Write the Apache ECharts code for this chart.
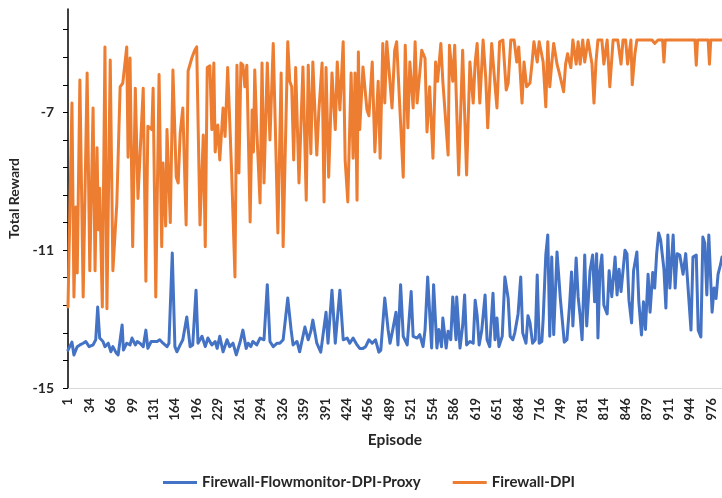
<!DOCTYPE html>
<html>
<head>
<meta charset="utf-8">
<script src="https://cdn.jsdelivr.net/npm/echarts@6/dist/echarts.min.js"></script>
<style>
  html, body { margin: 0; padding: 0; background: #fff; }
  #chart { width: 722px; height: 498px; }
</style>
</head>
<body>
<div id="chart"></div>
<script>
var blueEpisode = [1,7,10,15,19,24,28,33,39,43,46,49,54,57,62,66,69,74,77,83,85,90,95,98,103,106,110,115,119,122,127,130,136,140,145,151,154,159,163,166,171,175,181,186,190,195,198,204,209,213,219,224,227,231,236,242,246,251,256,262,266,271,274,278,281,287,292,298,303,307,312,318,322,327,334,339,342,348,352,360,365,369,372,378,384,392,395,401,406,413,418,424,428,433,439,443,448,452,457,462,467,472,475,481,486,489,493,498,501,505,509,515,521,524,530,534,539,542,546,549,552,555,560,563,567,569,574,577,581,584,589,590,595,599,602,605,610,615,618,621,624,628,633,636,640,645,648,651,654,659,663,668,671,675,678,683,687,690,695,698,701,705,709,712,715,719,721,725,728,731,734,737,742,745,747,750,753,757,761,764,766,771,774,777,780,784,787,792,796,799,802,804,807,810,813,818,821,825,830,833,836,839,845,848,851,855,858,863,866,870,873,876,880,883,887,890,893,896,899,904,907,910,913,918,921,924,928,930,933,937,940,945,948,953,956,960,963,966,969,972,977,980,983,986,990,992];
var blueReward = [-13.9,-13.67,-14.04,-13.8,-13.75,-13.7,-13.65,-13.8,-13.75,-13.6,-12.65,-13.55,-13.65,-13.8,-13.7,-13.95,-13.8,-13.98,-14.04,-13.17,-13.9,-13.7,-13.75,-13.55,-13.75,-13.65,-13.7,-13.8,-13.32,-13.85,-13.65,-13.6,-13.65,-13.6,-13.7,-13.8,-13.7,-11.08,-13.8,-13.95,-13.75,-13.6,-12.94,-13.8,-13.75,-12.16,-13.7,-13.5,-13.8,-13.55,-13.75,-13.65,-13.85,-13.5,-13.95,-13.6,-13.8,-13.7,-14.04,-13.65,-13.32,-13.85,-13.7,-13.8,-13.65,-13.75,-13.55,-13.6,-12.0,-13.65,-13.8,-13.7,-13.7,-13.6,-12.39,-13.3,-13.75,-13.65,-13.95,-13.23,-13.6,-13.35,-13.03,-13.7,-13.96,-12.8,-13.7,-12.16,-13.7,-12.16,-13.6,-13.55,-13.7,-13.55,-13.75,-13.85,-13.85,-13.8,-13.6,-13.7,-13.6,-13.96,-13.9,-12.39,-13.3,-13.7,-13.32,-12.8,-13.75,-12.0,-13.5,-13.75,-12.2,-13.5,-13.55,-13.45,-13.8,-13.32,-11.78,-12.8,-13.84,-12.0,-13.84,-13.3,-13.8,-12.97,-13.84,-13.35,-13.6,-12.36,-13.6,-12.36,-13.84,-13.2,-12.3,-13.75,-13.65,-13.7,-12.45,-12.9,-13.75,-13.32,-12.3,-13.6,-13.8,-12.25,-13.6,-12.97,-13.8,-13.5,-11.78,-12.4,-13.5,-13.6,-13.4,-12.85,-11.78,-13.4,-13.7,-12.9,-13.1,-13.7,-13.6,-11.72,-13.7,-13.65,-13.0,-11.14,-10.56,-13.5,-11.2,-13.45,-11.05,-11.1,-12.4,-12.45,-13.67,-13.6,-12.6,-11.63,-13.2,-11.23,-12.35,-12.9,-13.6,-11.14,-13.2,-11.6,-11.14,-12.5,-11.1,-13.55,-11.6,-11.14,-12.6,-12.85,-11.6,-12.35,-11.2,-12.3,-11.55,-12.2,-11.0,-11.1,-12.45,-13.11,-11.6,-11.05,-12.5,-13.46,-12.5,-13.3,-11.7,-12.8,-11.65,-12.1,-11.1,-10.5,-10.7,-11.55,-12.68,-10.56,-12.1,-10.56,-12.1,-11.1,-11.14,-11.1,-11.7,-11.1,-11.14,-13.32,-11.2,-11.14,-13.32,-13.52,-10.62,-10.8,-12.3,-10.56,-12.8,-12.1,-12.4,-11.7,-11.4,-11.2];

var orangeEpisode = [1,7,10,13,15,19,24,30,34,39,42,45,47,49,53,57,60,65,69,75,80,84,90,92,95,99,103,107,110,115,119,122,128,130,134,139,143,145,149,151,156,160,165,168,171,175,180,183,189,193,196,201,206,209,212,216,219,222,224,228,231,236,239,243,249,254,257,260,263,266,269,272,277,280,282,284,287,292,295,298,303,307,312,315,319,324,327,330,334,337,340,343,346,351,357,362,365,369,372,378,381,386,389,392,396,401,406,409,413,418,421,425,430,433,436,439,441,443,448,454,457,462,466,471,474,478,481,484,492,496,499,504,509,512,516,519,524,527,530,537,542,545,549,554,558,561,566,569,577,579,584,587,590,593,599,602,605,610,615,618,621,625,630,634,637,643,648,651,655,660,665,668,672,677,681,684,689,692,696,701,704,707,712,715,721,725,728,731,734,737,742,746,752,755,758,763,766,771,774,777,781,784,789,795,798,801,804,810,813,818,822,827,834,839,842,846,849,854,856,860,863,886,890,895,902,904,906,951,953,955,971,973,975,992];
var orangeReward = [-12.65,-6.73,-12.36,-9.75,-11.66,-6.06,-12.36,-5.86,-11.6,-6.87,-11.6,-8.03,-10.41,-9.2,-12.65,-5.1,-12.7,-5.48,-11.6,-9.63,-6.26,-6.15,-5.1,-8.3,-5.42,-10.9,-6.3,-9.5,-8.3,-6.3,-11.9,-7.4,-7.5,-6.3,-12.36,-5.9,-10.9,-8.47,-10.3,-7.5,-10.2,-5.77,-8.88,-9.05,-7.6,-6.87,-10.27,-5.8,-5.4,-5.2,-5.1,-10.27,-7.66,-10.9,-5.7,-5.65,-7.5,-5.57,-8.15,-7.37,-8.38,-6.87,-7.7,-5.7,-8.76,-11.78,-5.63,-8.76,-5.57,-5.63,-6.26,-5.63,-10.18,-6.93,-8.15,-5.77,-7.5,-9.63,-5.57,-9.05,-5.57,-7.8,-5.0,-7.3,-10.5,-5.86,-10.9,-8.3,-4.95,-6.1,-6.26,-8.38,-5.7,-9.05,-5.68,-9.55,-5.63,-8.2,-5.54,-8.24,-7.0,-5.57,-9.6,-5.7,-8.88,-5.86,-7.5,-5.54,-6.93,-4.95,-8.4,-9.6,-5.86,-8.33,-5.86,-9.55,-5.25,-7.5,-5.68,-6.93,-7.1,-5.54,-8.15,-6.1,-8.33,-5.0,-6.73,-4.95,-6.87,-5.2,-4.95,-6.93,-8.88,-5.05,-7.45,-5.54,-6.87,-4.95,-6.73,-5.2,-5.43,-7.57,-6.26,-8.33,-5.54,-6.1,-5.0,-6.1,-8.24,-5.05,-6.1,-5.05,-5.05,-8.82,-5.2,-5.2,-8.82,-5.54,-6.73,-5.54,-5.0,-6.73,-4.9,-6.0,-7.45,-5.0,-6.2,-6.87,-4.95,-4.9,-6.35,-6.15,-4.9,-4.9,-5.54,-5.1,-6.73,-5.54,-6.26,-6.15,-5.6,-4.95,-5.54,-4.95,-5.54,-6.84,-4.95,-6.26,-5.6,-5.0,-5.6,-5.9,-6.4,-5.6,-5.3,-5.7,-4.9,-5.6,-4.95,-5.6,-4.9,-5.54,-4.9,-5.6,-6.73,-5.54,-4.9,-4.9,-5.6,-4.9,-6.26,-4.9,-4.9,-5.6,-4.9,-4.9,-5.6,-4.9,-6.2,-5.3,-4.9,-4.9,-5.0,-4.9,-4.9,-5.54,-4.9,-4.9,-5.63,-4.9,-4.9,-5.6,-4.9,-4.9];

var seriesNames = ['Firewall-Flowmonitor-DPI-Proxy', 'Firewall-DPI'];
var yLabelValues = [-15, -11, -7];

function pairs(eps, vals) {
  return eps.map(function (e, i) { return [e - 1, vals[i]]; });
}

var chart = echarts.init(document.getElementById('chart'));
var txt = { color: '#262626', fontFamily: 'Lato', fontWeight: 'bold' };

chart.setOption({
  animation: false,
  backgroundColor: '#fff',
  grid: { left: 68, right: 0, top: 9, bottom: 110, outerBoundsMode: 'none' },
  legend: {
    bottom: 3,
    left: 158,
    itemGap: 32,
    itemWidth: 34,
    itemHeight: 3,
    icon: 'rect',
    textStyle: Object.assign({ fontSize: 15 }, txt),
    data: seriesNames
  },
  xAxis: {
    type: 'value',
    min: 0,
    max: 991,
    interval: 32.5,
    name: 'Episode',
    nameLocation: 'middle',
    nameGap: 44,
    nameTextStyle: Object.assign({ fontSize: 15.5 }, txt),
    axisLine: { lineStyle: { color: '#d9d9d9', width: 1 } },
    axisTick: { show: false },
    splitLine: { show: false },
    axisLabel: Object.assign({
      rotate: 90,
      fontSize: 13,
      margin: 10,
      showMaxLabel: false,
      formatter: function (v) {
        var k = v / 32.5;
        return Math.abs(k - Math.round(k)) < 1e-6 ? String(Math.round(v + 1)) : '';
      }
    }, txt)
  },
  yAxis: {
    type: 'value',
    min: -15,
    max: -4,
    interval: 0.8,
    name: 'Total Reward',
    nameLocation: 'middle',
    nameGap: 46,
    nameTextStyle: Object.assign({ fontSize: 14 }, txt),
    axisLine: { show: true, lineStyle: { color: '#000', width: 1.5 } },
    axisTick: { show: true, length: 5, lineStyle: { color: '#000', width: 1 } },
    splitLine: { show: false },
    axisLabel: Object.assign({
      fontSize: 14,
      margin: 14,
      showMaxLabel: false,
      formatter: function (v) {
        for (var i = 0; i < yLabelValues.length; i++) {
          if (Math.abs(v - yLabelValues[i]) < 1e-6) return String(yLabelValues[i]);
        }
        return '';
      }
    }, txt)
  },
  series: [
    {
      name: seriesNames[0],
      type: 'line',
      data: pairs(blueEpisode, blueReward),
      showSymbol: false,
      symbol: 'none',
      color: '#4472C4',
      lineStyle: { width: 3, color: '#4472C4', join: 'round', cap: 'round' }
    },
    {
      name: seriesNames[1],
      type: 'line',
      data: pairs(orangeEpisode, orangeReward),
      showSymbol: false,
      symbol: 'none',
      color: '#ED7D31',
      lineStyle: { width: 3, color: '#ED7D31', join: 'round', cap: 'round' }
    }
  ]
});
</script>
</body>
</html>
